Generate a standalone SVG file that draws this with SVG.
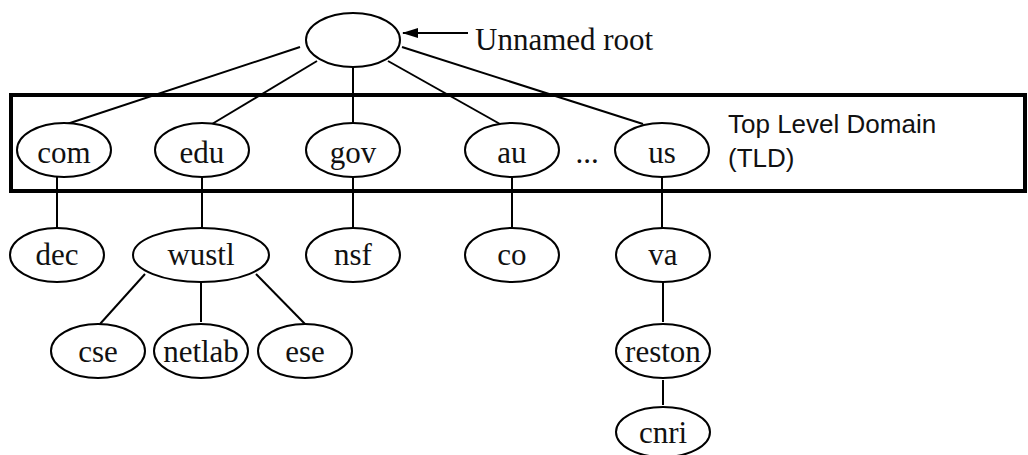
<svg xmlns="http://www.w3.org/2000/svg" width="1028" height="455" viewBox="0 0 1028 455">
  <style>
    .node ellipse { fill: #ffffff; stroke: #000000; stroke-width: 2; }
    .node text { font-family: "Liberation Serif", "Times New Roman", serif; font-size: 31px; fill: #111111; text-anchor: middle; }
    .edge { stroke: #000000; stroke-width: 2; fill: none; }
    .label-serif { font-family: "Liberation Serif", "Times New Roman", serif; font-size: 31px; fill: #111111; }
    .label-sans { font-family: "Liberation Sans", Arial, sans-serif; font-size: 26px; fill: #111111; }
  </style>
  <defs>
    <marker id="arrowhead" markerWidth="16" markerHeight="12" refX="15" refY="6" orient="auto" markerUnits="userSpaceOnUse">
      <path d="M0,1 L16,6 L0,11 Z" fill="#000000"/>
    </marker>
  </defs>

  <rect width="1028" height="455" fill="#ffffff"/>

  <!-- top level domain band -->
  <rect id="tld-band" x="11" y="95" width="1014" height="96" fill="none" stroke="#000000" stroke-width="4"/>

  <g id="connectors">
    <line class="edge" x1="300" y1="47" x2="67" y2="124"/>
    <line class="edge" x1="317" y1="61" x2="212" y2="124"/>
    <line class="edge" x1="353" y1="67" x2="353" y2="123"/>
    <line class="edge" x1="388" y1="61" x2="500" y2="124"/>
    <line class="edge" x1="402" y1="47" x2="643" y2="124"/>
    <line class="edge" x1="57" y1="177" x2="57" y2="228"/>
    <line class="edge" x1="202" y1="177" x2="202" y2="228"/>
    <line class="edge" x1="353" y1="177" x2="353" y2="228"/>
    <line class="edge" x1="512" y1="177" x2="512" y2="228"/>
    <line class="edge" x1="662" y1="177" x2="662" y2="228"/>
    <line class="edge" x1="145" y1="274" x2="100" y2="324"/>
    <line class="edge" x1="201" y1="283" x2="201" y2="322"/>
    <line class="edge" x1="256" y1="274" x2="305" y2="324"/>
    <line class="edge" x1="663" y1="283" x2="663" y2="322"/>
    <line class="edge" x1="663" y1="380" x2="663" y2="405"/>
    <line class="edge" x1="468" y1="33" x2="403" y2="33" marker-end="url(#arrowhead)"/>
  </g>

  <g id="root" class="node"><ellipse cx="353" cy="40" rx="47" ry="27"/></g>
  <text class="label-serif" x="475" y="50">Unnamed root</text>

  <g id="com" class="node"><ellipse cx="64" cy="150" rx="47" ry="27"/><text x="64" y="163">com</text></g>
  <g id="edu" class="node"><ellipse cx="202" cy="150" rx="47" ry="27"/><text x="202" y="163">edu</text></g>
  <g id="gov" class="node"><ellipse cx="353" cy="150" rx="47" ry="27"/><text x="353" y="163">gov</text></g>
  <g id="au" class="node"><ellipse cx="512" cy="150" rx="47" ry="27"/><text x="512" y="163">au</text></g>
  <text class="label-serif" x="587" y="163" text-anchor="middle">...</text>
  <g id="us" class="node"><ellipse cx="662" cy="150" rx="47" ry="27"/><text x="662" y="163">us</text></g>

  <text class="label-sans" x="728" y="133">Top Level Domain</text>
  <text class="label-sans" x="728" y="167">(TLD)</text>

  <g id="dec" class="node"><ellipse cx="57" cy="255" rx="47" ry="27"/><text x="57" y="265">dec</text></g>
  <g id="wustl" class="node"><ellipse cx="201" cy="255" rx="68" ry="27"/><text x="201" y="265">wustl</text></g>
  <g id="nsf" class="node"><ellipse cx="353" cy="255" rx="47" ry="27"/><text x="353" y="265">nsf</text></g>
  <g id="co" class="node"><ellipse cx="512" cy="255" rx="47" ry="27"/><text x="512" y="265">co</text></g>
  <g id="va" class="node"><ellipse cx="663" cy="255" rx="47" ry="27"/><text x="663" y="265">va</text></g>

  <g id="cse" class="node"><ellipse cx="98" cy="351" rx="47" ry="27"/><text x="98" y="362">cse</text></g>
  <g id="netlab" class="node"><ellipse cx="201" cy="351" rx="47" ry="27"/><text x="201" y="362">netlab</text></g>
  <g id="ese" class="node"><ellipse cx="305" cy="351" rx="47" ry="27"/><text x="305" y="362">ese</text></g>
  <g id="reston" class="node"><ellipse cx="663" cy="351" rx="47" ry="27"/><text x="663" y="362">reston</text></g>

  <g id="cnri" class="node"><ellipse cx="663" cy="432" rx="47" ry="25"/><text x="663" y="443">cnri</text></g>
</svg>
